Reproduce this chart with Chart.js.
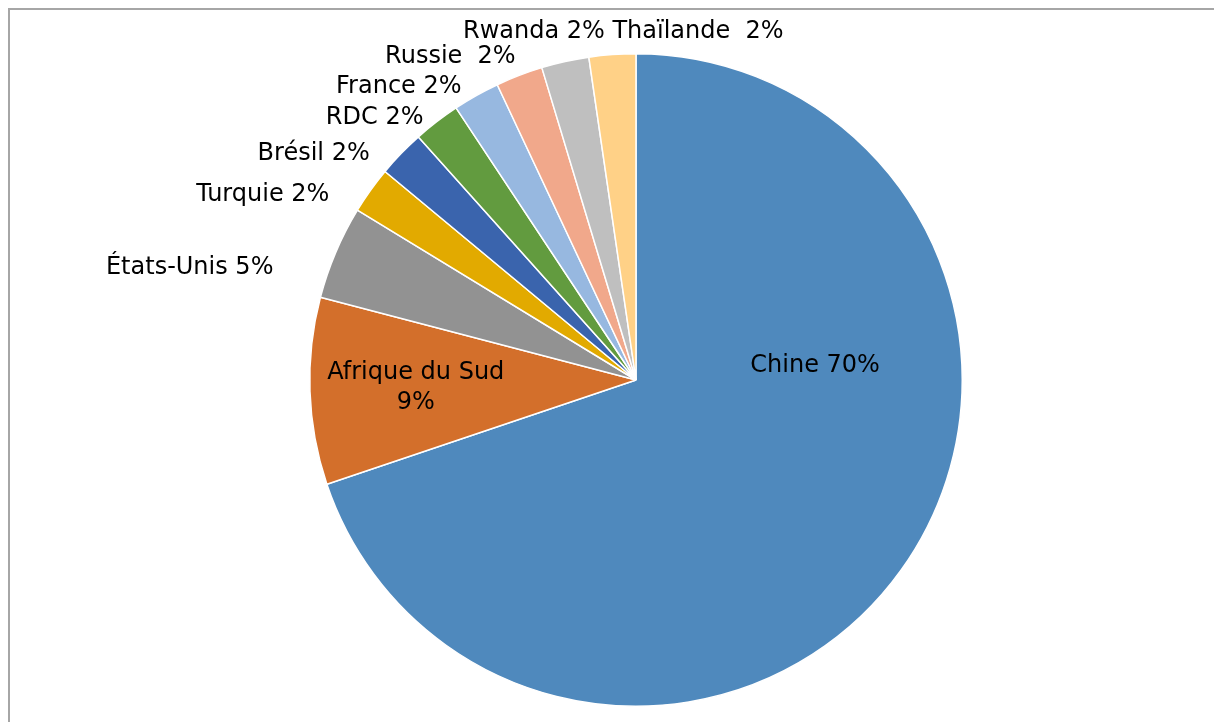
<!DOCTYPE html>
<html lang="fr">
<head>
  <meta charset="UTF-8" />
  <title>Répartition par pays</title>
  <style>
    html,body{margin:0;padding:0;background:#fff;overflow:hidden}
    #wrap{position:relative;width:1214px;height:722px}
    #frame{position:absolute;left:8px;top:8px;width:1300px;height:800px;border-left:2px solid #a6a6a6;border-top:2px solid #a6a6a6}
    #pie{position:absolute;left:0;top:0}
  </style>
  <script src="https://cdn.jsdelivr.net/npm/chart.js"></script>
</head>
<body>
<div id="wrap">
  <div id="frame"></div>
  <canvas id="pie" width="1214" height="722"></canvas>
</div>
<script>
const pays=['Chine','Afrique du Sud','États-Unis','Turquie','Brésil','RDC','France','Russie','Rwanda','Thaïlande'];
const parts=[69.83,9.26,4.63,2.32,2.35,2.32,2.31,2.33,2.35,2.31];
const couleurs=['#4f89bd','#d36f2b','#929292','#e2aa00','#3a64ad','#629b3f','#97b8e0','#f1a88b','#bfbfbf','#ffd187'];
// texte des étiquettes (espaces doubles comme dans l'original)
const sep=['',' ',' ',' ',' ',' ',' ','  ',' ','  '];

// position des étiquettes, en fraction du rayon depuis le centre
const labelPos=[
  [0.549,-0.043],[-0.675,0.025],[-1.368,-0.344],[-1.144,-0.567],[-0.988,-0.693],
  [-0.801,-0.804],[-0.727,-0.899],[-0.569,-0.991],[-0.313,-1.067],[0.190,-1.067]
];

const labelsPlugin={
  id:'etiquettes',
  afterDatasetsDraw(chart){
    const ctx=chart.ctx;
    const arcs=chart.getDatasetMeta(0).data;
    const total=parts.reduce((a,b)=>a+b,0);
    ctx.save();
    ctx.font='24px "DejaVu Sans", Verdana, sans-serif';
    ctx.fillStyle='#000';
    ctx.textAlign='center';
    ctx.textBaseline='middle';
    arcs.forEach((arc,i)=>{
      const r=arc.outerRadius;
      const x=arc.x+labelPos[i][0]*r, y=arc.y+labelPos[i][1]*r;
      const pct=Math.round(parts[i]/total*100)+'%';
      if(i===1){
        ctx.fillText(pays[i],x,y-15);
        ctx.fillText(pct,x,y+15);
      }else{
        ctx.fillText(pays[i]+(sep[i]||' ')+pct,x,y);
      }
    });
    ctx.restore();
  }
};

new Chart(document.getElementById('pie'),{
  type:'pie',
  data:{labels:pays,datasets:[{data:parts,backgroundColor:couleurs,borderColor:'#fff',borderWidth:1.5}]},
  options:{
    responsive:false,
    animation:false,
    layout:{padding:{left:58,right:0,top:53,bottom:15}},
    plugins:{legend:{display:false},tooltip:{enabled:false}}
  },
  plugins:[labelsPlugin]
});
</script>
</body>
</html>
